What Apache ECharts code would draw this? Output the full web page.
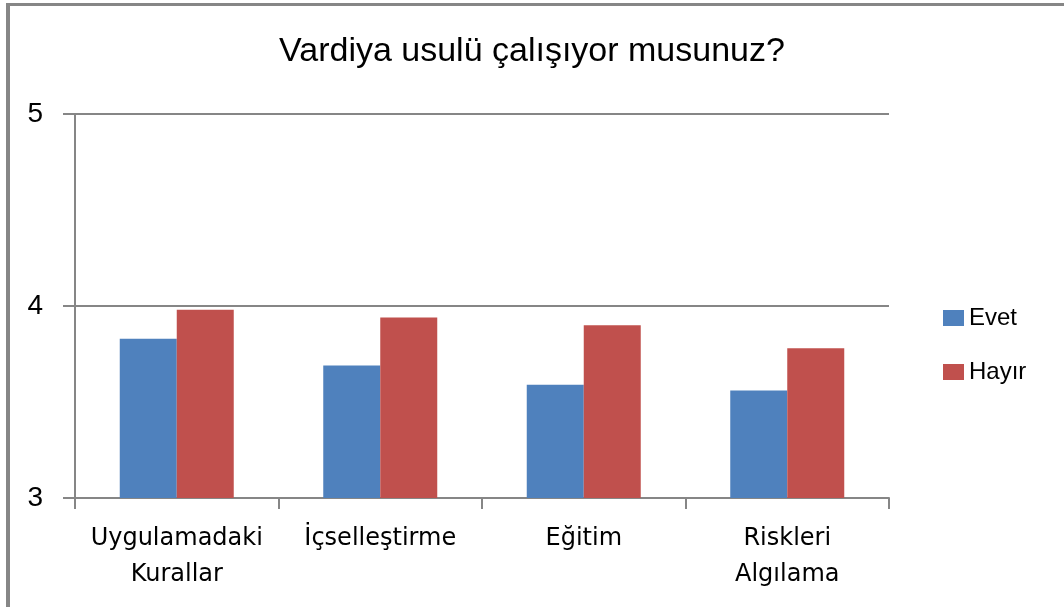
<!DOCTYPE html>
<html>
<head>
<meta charset="utf-8">
<script src="https://cdn.jsdelivr.net/npm/echarts@6/dist/echarts.min.js"></script>
<style>
  html, body { margin: 0; padding: 0; background: #fff; }
  #main { width: 1064px; height: 607px; }
</style>
</head>
<body>
<div id="main"></div>
<script>
// veriler
var categories = ['Uygulamadaki\nKurallar', 'İçselleştirme', 'Eğitim', 'Riskleri\nAlgılama'];
var evet = [3.83, 3.69, 3.59, 3.56];
var hayir = [3.98, 3.94, 3.90, 3.78];
var yTicks = [3, 4, 5];

var myChart = echarts.init(document.getElementById('main'));

var option = {
  backgroundColor: '#fff',
  animation: false,
  title: {
    text: 'Vardiya usulü çalışıyor musunuz?',
    left: 'center',
    top: 30,
    textStyle: { fontFamily: 'Liberation Sans', fontSize: 34, fontWeight: 'normal', color: '#000' }
  },
  // çerçeve
  graphic: [
    { type: 'line', shape: { x1: 6, y1: 4.5, x2: 1064, y2: 4.5 }, style: { stroke: '#868686', lineWidth: 3 } },
    { type: 'line', shape: { x1: 8, y1: 3, x2: 8, y2: 607 }, style: { stroke: '#868686', lineWidth: 4 } }
  ],
  legend: {
    orient: 'vertical',
    left: 938,
    top: 301,
    icon: 'rect',
    itemWidth: 21,
    itemHeight: 16,
    itemGap: 30,
    textStyle: { fontFamily: 'Liberation Sans', fontSize: 24, color: '#000' },
    data: ['Evet', 'Hayır']
  },
  grid: { left: 75, right: 175, top: 114, bottom: 109 },
  xAxis: {
    type: 'category',
    data: categories,
    axisLine: { lineStyle: { color: '#868686', width: 2 } },
    axisTick: { show: true, length: 11, lineStyle: { color: '#868686', width: 2 } },
    axisLabel: {
      margin: 23,
      interval: 0,
      fontFamily: 'DejaVu Sans',
      fontSize: 24,
      lineHeight: 36,
      color: '#000'
    }
  },
  yAxis: {
    type: 'value',
    min: yTicks[0],
    max: yTicks[yTicks.length - 1],
    interval: 1,
    axisLine: { show: true, lineStyle: { color: '#868686', width: 2 } },
    axisTick: { show: true, length: 12, lineStyle: { color: '#868686', width: 2 } },
    splitLine: { lineStyle: { color: '#868686', width: 2 } },
    axisLabel: { margin: 32, fontFamily: 'Liberation Sans', fontSize: 28, color: '#000' }
  },
  series: [
    { name: 'Evet', type: 'bar', data: evet, barWidth: 57, barGap: '0%', itemStyle: { color: '#4F81BD' } },
    { name: 'Hayır', type: 'bar', data: hayir, barWidth: 57, barGap: '0%', itemStyle: { color: '#C0504D' } }
  ]
};

myChart.setOption(option);
</script>
</body>
</html>
